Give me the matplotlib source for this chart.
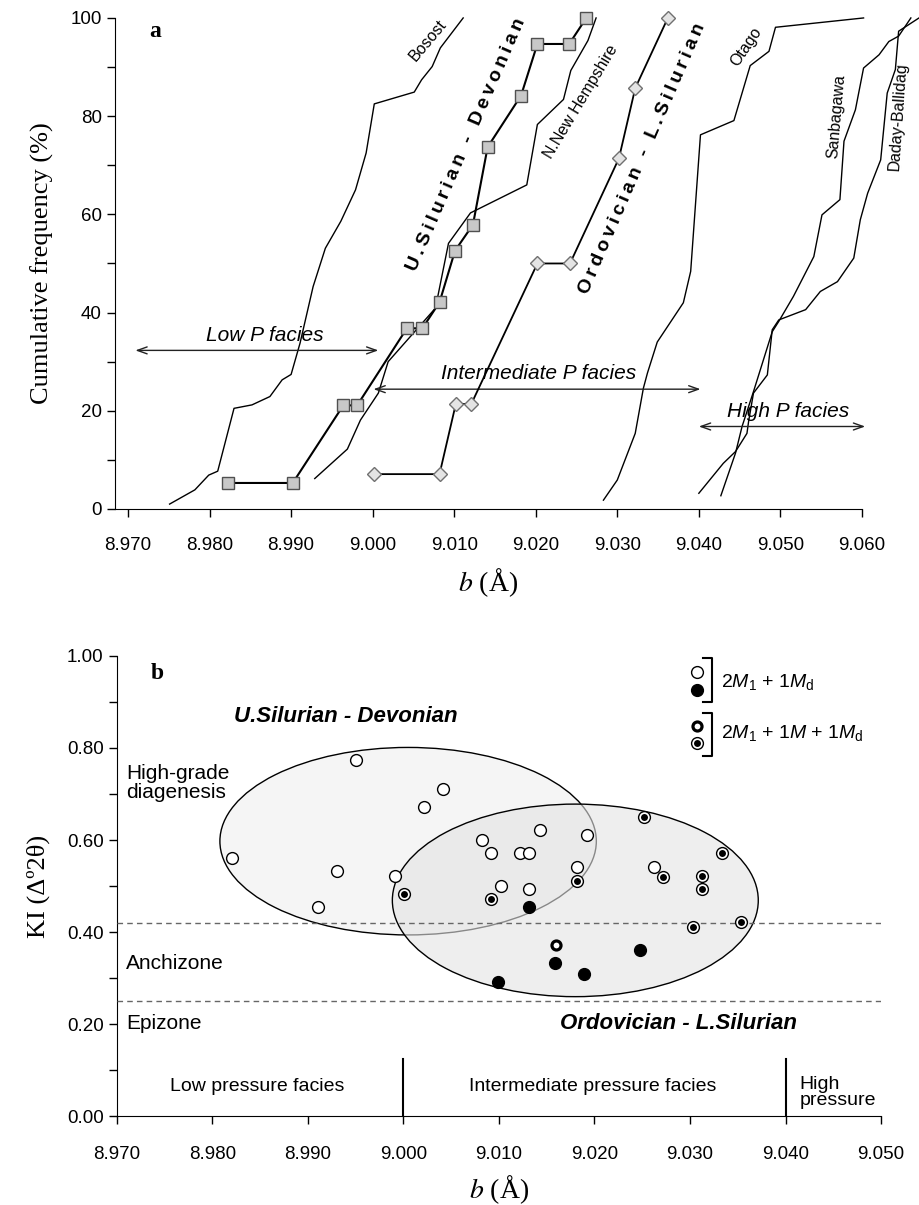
import matplotlib
matplotlib.use('Agg')
import matplotlib.pyplot as plt
from matplotlib.patches import Ellipse

plt.rcParams['font.family'] = ['Liberation Sans', 'DejaVu Sans']
plt.rcParams['mathtext.fontset'] = 'custom'
plt.rcParams['mathtext.rm'] = 'Liberation Sans'
plt.rcParams['mathtext.it'] = 'Liberation Sans:italic'
SERIF = ['Liberation Serif', 'DejaVu Serif']

# ---- panel a : cumulative frequency curves ----
usd_b = [8.9822, 8.9902, 8.9964, 8.9981, 9.0042, 9.0061, 9.0082, 9.0101, 9.0123, 9.0141, 9.0182, 9.0202, 9.0241, 9.0262]
usd_f = [5.3, 5.3, 21.1, 21.1, 36.8, 36.8, 42.1, 52.6, 57.9, 73.7, 84.2, 94.7, 94.7, 100]

ord_b = [9.0002, 9.0082, 9.0102, 9.0121, 9.0202, 9.0242, 9.0302, 9.0322, 9.0362]
ord_f = [7.1, 7.1, 21.4, 21.4, 50.0, 50.0, 71.4, 85.7, 100]

bosost_b = [8.9751, 8.9782, 8.9799, 8.9810, 8.9830, 8.9852, 8.9874, 8.9889, 8.9900, 8.9911, 8.9927,
            8.9942, 8.9961, 8.9979, 8.9992, 9.0002, 9.0051, 9.0060, 9.0073, 9.0083, 9.0111]
bosost_f = [1.0, 3.9, 6.9, 7.7, 20.5, 21.2, 22.9, 26.3, 27.4, 33.8, 45.3,
            53.1, 58.6, 65.0, 72.5, 82.5, 84.9, 87.4, 90.1, 93.9, 100]

nnh_b = [8.9929, 8.9969, 8.9985, 9.0007, 9.0019, 9.0077, 9.0093, 9.0120, 9.0189, 9.0202, 9.0234, 9.0243, 9.0264, 9.0274]
nnh_f = [6.2, 12.2, 18.1, 23.6, 30.0, 40.9, 54.1, 60.3, 66.0, 78.3, 83.4, 89.3, 95.4, 100]

otago_b = [9.0283, 9.0300, 9.0322, 9.0332, 9.0337, 9.0349, 9.0381, 9.0390, 9.0402, 9.0443, 9.0463, 9.0486, 9.0494, 9.0602]
otago_f = [1.8, 5.9, 15.4, 24.6, 27.7, 34.0, 42.0, 48.4, 76.2, 79.1, 90.3, 93.2, 98.1, 100]

sanb_b = [9.0427, 9.0445, 9.0453, 9.0467, 9.0490, 9.0498, 9.0516, 9.0541, 9.0551, 9.0573, 9.0578,
          9.0592, 9.0602, 9.0621, 9.0633, 9.0645, 9.0660]
sanb_f = [2.7, 11.4, 16.8, 23.9, 36.1, 38.2, 43.3, 51.4, 59.9, 63.0, 74.9,
          81.3, 89.8, 92.5, 95.2, 96.3, 100]

daday_b = [9.0400, 9.0430, 9.0445, 9.0459, 9.0461, 9.0467, 9.0484, 9.0490, 9.0498, 9.0531, 9.0549,
           9.0570, 9.0590, 9.0598, 9.0607, 9.0623, 9.0631, 9.0641, 9.0645, 9.0670]
daday_f = [3.2, 9.3, 11.7, 15.4, 17.8, 23.6, 27.3, 36.5, 38.5, 40.6, 44.3,
           46.3, 51.1, 58.9, 64.3, 71.1, 84.7, 89.5, 97.3, 100]

# ---- panel b : KI vs b ----
open_b = [8.9821, 8.9950, 9.0042, 9.0022, 8.9931, 8.9911, 8.9991, 9.0082, 9.0092, 9.0102,
          9.0143, 9.0192, 9.0122, 9.0132, 9.0182, 9.0132, 9.0262]
open_ki = [0.562, 0.774, 0.711, 0.672, 0.533, 0.454, 0.522, 0.600, 0.571, 0.500,
           0.621, 0.612, 0.571, 0.571, 0.542, 0.493, 0.542]
ring_b = [9.0001, 9.0092, 9.0182, 9.0252, 9.0334, 9.0272, 9.0313, 9.0313, 9.0303, 9.0353]
ring_ki = [0.482, 0.472, 0.512, 0.651, 0.572, 0.520, 0.522, 0.493, 0.412, 0.421]
solid_b = [9.0132, 9.0248, 9.0159, 9.0189, 9.0099]
solid_ki = [0.454, 0.361, 0.332, 0.310, 0.292]
bold_b = [9.0160]
bold_ki = [0.372]

fig = plt.figure(figsize=(9.19, 12.05), dpi=100)

# ================= panel a =================
ax = fig.add_axes([0.1251, 0.5776, 0.8128, 0.4075])
ax.set_xlim(8.9684, 9.060)
ax.set_ylim(0, 100)
for s in ['top', 'right']:
    ax.spines[s].set_visible(False)

kw = dict(color='black', lw=1.0, clip_on=False)
ax.plot(bosost_b, bosost_f, **kw)
ax.plot(nnh_b, nnh_f, **kw)
ax.plot(otago_b, otago_f, **kw)
ax.plot(sanb_b, sanb_f, **kw)
ax.plot(daday_b, daday_f, **kw)
ax.plot(usd_b, usd_f, color='black', lw=1.5, marker='s', ms=8, mfc='#c8c8c8', mec='#505050', mew=1.0, clip_on=False, zorder=4)
ax.plot(ord_b, ord_f, color='black', lw=1.3, marker='D', ms=7, mfc='#e4e4e4', mec='#707070', mew=1.0, clip_on=False, zorder=4)

ax.set_xticks([8.970 + 0.01 * i for i in range(10)])
ax.set_xticklabels(['%.3f' % (8.970 + 0.01 * i) for i in range(10)])
ax.set_yticks([0, 20, 40, 60, 80, 100])
ax.set_yticks([10, 30, 50, 70, 90], minor=True)
ax.tick_params(axis='both', which='both', direction='out', length=6, width=1, labelsize=13.5)
ax.tick_params(axis='x', pad=14)
ax.set_ylabel('Cumulative frequency (%)', family=SERIF, fontsize=19, labelpad=12)
ax.set_xlabel(r'$b$ (Å)', family=SERIF, fontsize=20, labelpad=9, math_fontfamily='stix')

ax.text(8.9733, 97.3, 'a', family=SERIF, fontsize=17, weight='bold', ha='center', va='center')

txt = dict(ha='center', va='center', rotation_mode='anchor', fontsize=11.5)
ax.text(9.0068, 95.4, 'Bosost', rotation=50, **txt)
ax.text(9.0255, 82.9, 'N.New Hempshire', rotation=59, **txt)
ax.text(9.0458, 94.2, 'Otago', rotation=56, **txt)
ax.text(9.0569, 79.9, 'Sanbagawa', rotation=85, **txt)
ax.text(9.0644, 79.9, 'Daday-Ballidag', rotation=86, **txt)

def spaced(s):
    return '\u2009'.join(s)

ax.text(9.0115, 74.2, spaced('U.Silurian - Devonian'), rotation=66.5, ha='center', va='center',
        rotation_mode='anchor', fontsize=14, weight='bold')
ax.text(9.0331, 71.3, spaced('Ordovician - L.Silurian'), rotation=66.5, ha='center', va='center',
        rotation_mode='anchor', fontsize=14, weight='bold')

arr = dict(arrowstyle='<->,head_length=0.7,head_width=0.25', color='#222222', lw=1.0, shrinkA=0, shrinkB=0)
ax.annotate('', xy=(8.9709, 32.3), xytext=(9.0007, 32.3), arrowprops=arr)
ax.text(8.9868, 35.3, 'Low P facies', style='italic', fontsize=15, ha='center', va='center')
ax.annotate('', xy=(9.0001, 24.4), xytext=(9.0402, 24.4), arrowprops=arr)
ax.text(9.0203, 27.6, 'Intermediate P facies', style='italic', fontsize=15, ha='center', va='center')
ax.annotate('', xy=(9.0400, 16.8), xytext=(9.0604, 16.8), arrowprops=arr, annotation_clip=False)
ax.text(9.0510, 19.9, 'High P facies', style='italic', fontsize=15, ha='center', va='center')

# ================= panel b =================
bx = fig.add_axes([0.1270, 0.0735, 0.8317, 0.3823])
bx.set_xlim(8.970, 9.050)
bx.set_ylim(0, 1.0)
for s in ['top', 'right']:
    bx.spines[s].set_visible(False)

e1 = Ellipse((9.0005, 0.5975), 0.0394, 0.407, facecolor='#f5f5f5', edgecolor='black', lw=1.0, zorder=1)
e2 = Ellipse((9.0180, 0.469), 0.0383, 0.418, facecolor='#e4e4e4', edgecolor='none', alpha=0.6, zorder=2)
e2b = Ellipse((9.0180, 0.469), 0.0383, 0.418, facecolor='none', edgecolor='black', lw=1.0, zorder=2)
bx.add_patch(e1)
bx.add_patch(e2)
bx.add_patch(e2b)

dash = dict(color='#666666', lw=1.0, ls=(0, (4, 3)), zorder=3)
bx.plot([8.970, 9.050], [0.42, 0.42], **dash)
bx.plot([8.970, 9.050], [0.25, 0.25], **dash)

bx.plot([9.000, 9.000], [0, 0.124], color='black', lw=1.5)
bx.plot([9.040, 9.040], [0, 0.124], color='black', lw=1.5)

mk = dict(ls='none', marker='o', zorder=5, clip_on=False)
bx.plot(open_b, open_ki, ms=8.5, mfc='white', mec='black', mew=1.0, **mk)
bx.plot(ring_b, ring_ki, ms=8.5, mfc='white', mec='black', mew=1.0, **mk)
bx.plot(ring_b, ring_ki, ms=5, mfc='black', mec='black', mew=0, **mk)
bx.plot(solid_b, solid_ki, ms=8.5, mfc='black', mec='black', mew=1.0, **mk)
bx.plot(bold_b, bold_ki, ms=6.5, mfc='white', mec='black', mew=2.3, **mk)

# legend
bx.plot([9.0307], [0.965], ms=8.5, mfc='white', mec='black', mew=1.0, **mk)
bx.plot([9.0307], [0.926], ms=8.5, mfc='black', mec='black', mew=1.0, **mk)
bx.plot([9.0307], [0.847], ms=6.5, mfc='white', mec='black', mew=2.3, **mk)
bx.plot([9.0307], [0.811], ms=8.5, mfc='white', mec='black', mew=1.0, **mk)
bx.plot([9.0307], [0.811], ms=5, mfc='black', mec='black', mew=0, **mk)
bx.plot([9.0314, 9.0323, 9.0323, 9.0314], [0.995, 0.995, 0.899, 0.899], color='black', lw=1.5)
bx.plot([9.0314, 9.0323, 9.0323, 9.0314], [0.876, 0.876, 0.782, 0.782], color='black', lw=1.5)
bx.text(9.0332, 0.944, r'2$M_1$ + 1$M_\mathrm{d}$', fontsize=14, ha='left', va='center')
bx.text(9.0332, 0.832, r'2$M_1$ + 1$M$ + 1$M_\mathrm{d}$', fontsize=14, ha='left', va='center')

bx.text(8.9742, 0.962, 'b', family=SERIF, fontsize=17, weight='bold', ha='center', va='center')
bx.text(8.9940, 0.868, 'U.Silurian - Devonian', fontsize=16, weight='bold', style='italic', ha='center', va='center')
bx.text(9.0288, 0.202, 'Ordovician - L.Silurian', fontsize=16, weight='bold', style='italic', ha='center', va='center')
bx.text(8.9710, 0.724, 'High-grade\ndiagenesis', fontsize=15, ha='left', va='center', linespacing=0.95)
bx.text(8.9710, 0.332, 'Anchizone', fontsize=15, ha='left', va='center')
bx.text(8.9710, 0.202, 'Epizone', fontsize=15, ha='left', va='center')
bx.text(8.9847, 0.0645, 'Low pressure facies', fontsize=14, ha='center', va='center')
bx.text(9.0198, 0.0645, 'Intermediate pressure facies', fontsize=14, ha='center', va='center')
bx.text(9.0415, 0.052, 'High\npressure', fontsize=14, ha='left', va='center', linespacing=0.95)

bx.set_xticks([8.970 + 0.01 * i for i in range(9)])
bx.set_xticklabels(['%.3f' % (8.970 + 0.01 * i) for i in range(9)])
bx.set_yticks([0, 0.2, 0.4, 0.6, 0.8, 1.0])
bx.set_yticklabels(['0.00', '0.20', '0.40', '0.60', '0.80', '1.00'])
bx.set_yticks([0.1, 0.3, 0.5, 0.7, 0.9], minor=True)
bx.tick_params(axis='both', which='both', direction='out', length=6, width=1, labelsize=13.5)
bx.tick_params(axis='x', pad=15)
bx.set_ylabel('KI (Δº2θ)', family=SERIF, fontsize=19, labelpad=12)
bx.set_xlabel(r'$b$ (Å)', family=SERIF, fontsize=20, labelpad=8, math_fontfamily='stix')

fig.savefig('out.png', dpi=100)
